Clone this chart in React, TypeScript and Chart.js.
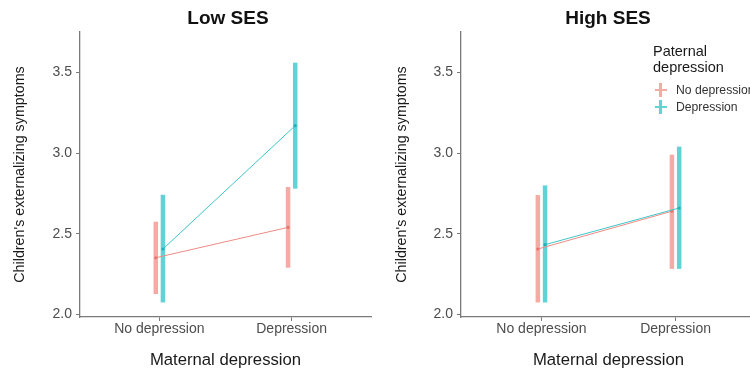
import React, { useEffect, useRef } from "react";
import { Chart, registerables } from "chart.js";

Chart.register(...registerables);

// ---- data ----
const categories = ["No depression", "Depression"];
const yTickValues = [2.0, 2.5, 3.0, 3.5];

const lowNoPatMean = [2.352, 2.54];
const lowNoPatLower = [2.127, 2.29];
const lowNoPatUpper = [2.575, 2.79];
const lowPatMean = [2.406, 3.17];
const lowPatLower = [2.075, 2.78];
const lowPatUpper = [2.742, 3.56];

const highNoPatMean = [2.406, 2.64];
const highNoPatLower = [2.075, 2.283];
const highNoPatUpper = [2.74, 2.99];
const highPatMean = [2.433, 2.66];
const highPatLower = [2.075, 2.283];
const highPatUpper = [2.8, 3.04];

const panelTitles = ["Low SES", "High SES"];
const legendTitle = ["Paternal", "depression"];
const legendLabels = ["No depression", "Depression"];
const yTitle = "Children's externalizing symptoms";
const xTitle = "Maternal depression";

// ---- styles ----
const FONT = "'Liberation Sans', Arial, Helvetica, sans-serif";
const DODGE = 0.027;
const RED_LINE = "#EE8B85";
const RED_BAR = "#F6AAA5";
const RED_PT = "#E8766E";
const CYAN_LINE = "#3CC6C9";
const CYAN_BAR = "#5FD3D6";
const CYAN_PT = "#1BB5B8";
const AXIS_COLOR = "#7a7a7a";

function errorBars(lo: number[], hi: number[], shift: number, color: string) {
  return lo.map((l, i) => ({
    data: [
      { x: i + shift, y: l },
      { x: i + shift, y: hi[i] },
    ],
    borderColor: color,
    borderWidth: 4.5,
    borderCapStyle: "butt",
    pointRadius: 0,
    pointHoverRadius: 0,
  }));
}

function makeConfig(
  noMean: number[],
  noLo: number[],
  noHi: number[],
  patMean: number[],
  patLo: number[],
  patHi: number[],
  axisWidth: number,
  titlePad: number,
  padRight: number
): any {
  const datasets: any[] = [
    {
      data: patMean.map((v, i) => ({ x: i + DODGE, y: v })),
      borderColor: CYAN_LINE,
      borderWidth: 1,
      pointRadius: 1.6,
      pointBackgroundColor: CYAN_PT,
      pointBorderWidth: 0,
    },
    {
      data: noMean.map((v, i) => ({ x: i - DODGE, y: v })),
      borderColor: RED_LINE,
      borderWidth: 1,
      pointRadius: 1.6,
      pointBackgroundColor: RED_PT,
      pointBorderWidth: 0,
    },
    ...errorBars(patLo, patHi, DODGE, CYAN_BAR),
    ...errorBars(noLo, noHi, -DODGE, RED_BAR),
  ];
  return {
    type: "line",
    data: { datasets },
    options: {
      animation: false,
      responsive: false,
      events: [],
      layout: { padding: { top: 32, right: padRight, left: 0, bottom: 0 } },
      plugins: { legend: { display: false }, tooltip: { enabled: false }, title: { display: false } },
      scales: {
        x: {
          type: "linear",
          min: -0.6,
          max: 1.6,
          afterBuildTicks: (s: any) => {
            s.ticks = categories.map((_, i) => ({ value: i }));
          },
          afterFit: (s: any) => {
            s.height = 52;
          },
          ticks: {
            callback: (_v: any, i: number) => categories[i],
            font: { family: FONT, size: 14, lineHeight: 1 },
            color: "#4d4d4d",
            padding: 1,
            maxRotation: 0,
            autoSkip: false,
          },
          grid: { display: true, drawOnChartArea: false, drawTicks: true, tickLength: 4, color: AXIS_COLOR, lineWidth: 1 },
          border: { display: true, color: AXIS_COLOR, width: 1.3 },
          title: {
            display: true,
            text: xTitle,
            font: { family: FONT, size: 16.7, lineHeight: 1 },
            color: "#1a1a1a",
            padding: { top: 0, bottom: 0.5 },
          },
        },
        y: {
          type: "linear",
          min: 1.985,
          max: 3.75,
          afterBuildTicks: (s: any) => {
            s.ticks = yTickValues.map((v) => ({ value: v }));
          },
          afterFit: (s: any) => {
            s.width = axisWidth;
          },
          ticks: {
            callback: (v: any) => Number(v).toFixed(1),
            font: { family: FONT, size: 14 },
            color: "#4d4d4d",
            padding: 4,
          },
          grid: { display: true, drawOnChartArea: false, drawTicks: true, tickLength: 4, color: AXIS_COLOR, lineWidth: 1 },
          border: { display: true, color: AXIS_COLOR, width: 1.3 },
          title: {
            display: true,
            text: yTitle,
            font: { family: FONT, size: 14.3, lineHeight: 1.2 },
            color: "#1a1a1a",
            padding: { top: titlePad, bottom: 0 },
          },
        },
      },
    },
  };
}

export default function App() {
  const leftRef = useRef<HTMLCanvasElement>(null);
  const rightRef = useRef<HTMLCanvasElement>(null);

  useEffect(() => {
    const c1 = new Chart(
      leftRef.current as HTMLCanvasElement,
      makeConfig(lowNoPatMean, lowNoPatLower, lowNoPatUpper, lowPatMean, lowPatLower, lowPatUpper, 80, 11.4, 0)
    );
    const c2 = new Chart(
      rightRef.current as HTMLCanvasElement,
      makeConfig(highNoPatMean, highNoPatLower, highNoPatUpper, highPatMean, highPatLower, highPatUpper, 86, 18.4, 3)
    );
    return () => {
      c1.destroy();
      c2.destroy();
    };
  }, []);

  const titleStyle = (cx: number): React.CSSProperties => ({
    position: "absolute",
    top: 7,
    left: cx - 100,
    width: 200,
    textAlign: "center",
    fontFamily: FONT,
    fontWeight: "bold",
    fontSize: 19,
    lineHeight: "22px",
    color: "#111",
  });

  const textAt = (x: number, cy: number, size: number, color: string, text: string) => (
    <div
      style={{
        position: "absolute",
        left: x,
        top: cy - size * 0.6,
        fontFamily: FONT,
        fontSize: size,
        lineHeight: `${size * 1.2}px`,
        color,
        whiteSpace: "nowrap",
      }}
    >
      {text}
    </div>
  );

  const cross = (cx: number, cy: number, color: string) => (
    <>
      <div style={{ position: "absolute", left: cx - 1.5, top: cy - 7, width: 3, height: 14, background: color }} />
      <div style={{ position: "absolute", left: cx - 6, top: cy - 0.75, width: 12, height: 1.5, background: color }} />
    </>
  );

  return (
    <div
      style={{
        position: "absolute",
        left: 0,
        top: 0,
        width: 750,
        height: 369,
        overflow: "hidden",
        background: "#fff",
      }}
    >
      <canvas ref={leftRef} width={375} height={369} style={{ position: "absolute", left: 0, top: 0 }} />
      <canvas ref={rightRef} width={385} height={369} style={{ position: "absolute", left: 375, top: 0 }} />
      <div style={titleStyle(228)}>{panelTitles[0]}</div>
      <div style={titleStyle(608)}>{panelTitles[1]}</div>
      {textAt(653, 52, 14.5, "#1a1a1a", legendTitle[0])}
      {textAt(653, 68, 14.5, "#1a1a1a", legendTitle[1])}
      {cross(660.5, 90, RED_BAR)}
      {cross(660.5, 107, CYAN_BAR)}
      {textAt(676, 90, 12.2, "#333", legendLabels[0])}
      {textAt(676, 107, 12.2, "#333", legendLabels[1])}
    </div>
  );
}
